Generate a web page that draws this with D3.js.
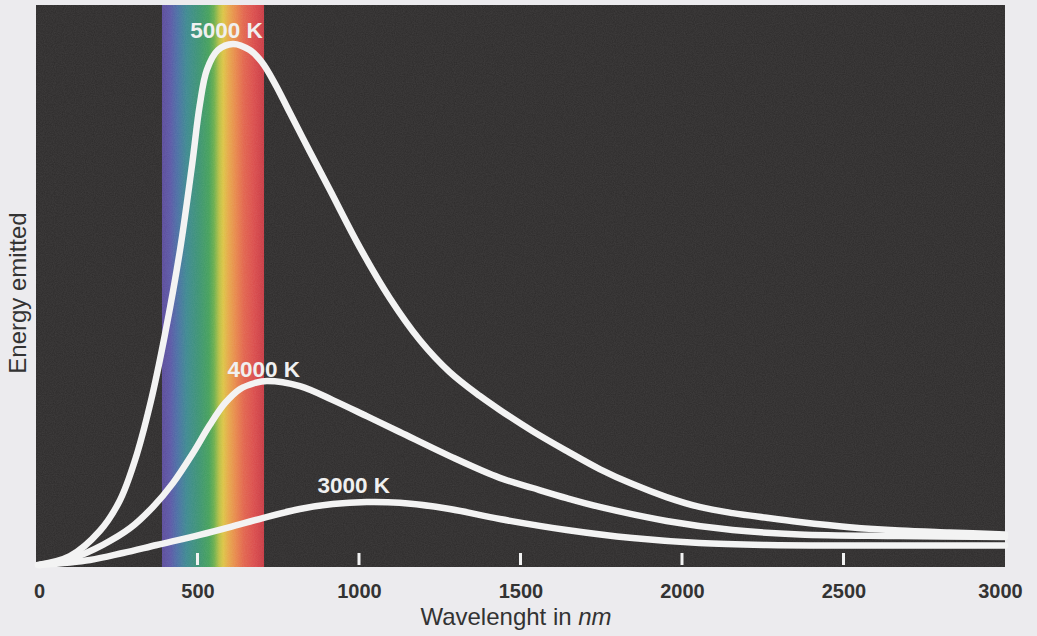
<!DOCTYPE html>
<html>
<head>
<meta charset="utf-8">
<script src="https://cdn.jsdelivr.net/npm/d3@7"></script>
<style>
  html, body { margin: 0; padding: 0; background: #ecebee; }
  svg { display: block; }
</style>
</head>
<body>
<svg id="chart" width="1037" height="636"></svg>
<script>
// Black-body radiation curves: wavelength (nm) against emitted energy (arbitrary units)
const wavelengths5000 = [6, 105, 198, 260, 306, 353, 399, 446, 483, 507, 529, 563, 610, 662, 699, 740, 786, 848, 910, 1002, 1095, 1188, 1281, 1374, 1436, 1538, 1643, 1745, 1847, 1952, 2054, 2157, 2262, 2364, 2519, 2673, 2828, 3000];
const energy5000 =      [0, 1.7, 6.6, 12.5, 20.1, 30.9, 44.4, 60.8, 77.1, 88.7, 95.5, 99.3, 100.5, 99.3, 97.0, 92.8, 87.2, 79.7, 72.3, 61.3, 51.5, 43.4, 37.2, 32.6, 29.9, 25.8, 22.0, 18.5, 15.6, 13.1, 11.2, 10.0, 9.1, 8.3, 7.3, 6.65, 6.27, 5.9];

const wavelengths4000 = [12, 114, 207, 291, 362, 424, 486, 538, 585, 631, 678, 715, 817, 919, 1024, 1126, 1281, 1436, 1538, 1643, 1745, 1952, 2157, 2364, 2673, 3000];
const energy4000 =      [0, 1.35, 3.9, 7.1, 11.2, 15.8, 21.6, 27.0, 31.2, 33.9, 35.1, 35.5, 34.5, 31.8, 28.7, 25.65, 21.0, 16.8, 14.85, 12.9, 11.2, 8.5, 6.75, 5.9, 5.6, 5.4];

const wavelengths3000 = [12, 167, 269, 374, 507, 600, 702, 817, 919, 1024, 1126, 1281, 1436, 1643, 1847, 2054, 2262, 2519, 3000];
const energy3000 =      [0, 0.96, 2.31, 3.86, 5.8, 7.3, 9.06, 10.8, 11.76, 12.15, 12.0, 10.8, 8.87, 6.75, 5.2, 4.24, 3.86, 3.76, 3.76];

const curveLabels = ["5000 K", "4000 K", "3000 K"];
const labelWavelengths = [590, 705, 984];
const labelEnergies = [101.6, 36.3, 13.9];

// Visible band of the spectrum (nm) and its colour stops
const visibleBand = [390, 706];
const spectrumOffsets = [0, 0.08, 0.15, 0.24, 0.36, 0.46, 0.51, 0.56, 0.6, 0.65, 0.72, 0.8, 0.9, 1];
const spectrumColors = ["#5a4a9a", "#5a56a6", "#4a6ea4", "#3c8890", "#3b9372", "#44a05a", "#6aae4c", "#b8c044", "#dcc444", "#e6a848", "#e8884a", "#e2644c", "#da4c4b", "#c93943"];

const xTicks = [0, 500, 1000, 1500, 2000, 2500, 3000];
const innerTicks = [500, 1000, 1500, 2000, 2500];

const svg = d3.select("#chart");
const plot = { left: 36, right: 1005, top: 5, bottom: 567 };

const x = d3.scaleLinear().domain([0, 3000]).range([plot.left, plot.right]);
const y = d3.scaleLinear().domain([0, 108]).range([565, plot.top]);

const defs = svg.append("defs");

// grain for the dark panel
const grain = defs.append("filter").attr("id", "grain")
  .attr("x", 0).attr("y", 0).attr("width", "100%").attr("height", "100%");
grain.append("feTurbulence").attr("type", "fractalNoise").attr("baseFrequency", 0.9)
  .attr("numOctaves", 2).attr("seed", 7).attr("result", "noise");
grain.append("feColorMatrix").attr("type", "matrix")
  .attr("values", "0 0 0 0 1  0 0 0 0 1  0 0 0 0 1  0 0 0 0.09 0");
grain.append("feComposite").attr("in2", "SourceGraphic").attr("operator", "in");

const grad = defs.append("linearGradient").attr("id", "spectrum")
  .attr("x1", "0%").attr("x2", "100%").attr("y1", "0%").attr("y2", "0%");
spectrumColors.forEach((c, i) => {
  grad.append("stop").attr("offset", (spectrumOffsets[i] * 100) + "%").attr("stop-color", c);
});

// dark panel
svg.append("rect")
  .attr("x", plot.left).attr("y", plot.top)
  .attr("width", plot.right - plot.left).attr("height", plot.bottom - plot.top)
  .attr("fill", "#2d2b2b");

// visible spectrum band
svg.append("rect")
  .attr("x", x(visibleBand[0])).attr("y", plot.top)
  .attr("width", x(visibleBand[1]) - x(visibleBand[0]))
  .attr("height", plot.bottom - plot.top)
  .attr("fill", "url(#spectrum)");

// grain over the panel
svg.append("rect")
  .attr("x", plot.left).attr("y", plot.top)
  .attr("width", plot.right - plot.left).attr("height", plot.bottom - plot.top)
  .attr("fill", "#000").attr("filter", "url(#grain)");

// tick marks inside the panel
svg.append("g").selectAll("line").data(innerTicks).join("line")
  .attr("x1", d => x(d)).attr("x2", d => x(d))
  .attr("y1", 553).attr("y2", 565)
  .attr("stroke", "#f2f2f2").attr("stroke-width", 3);

// curves
const series = [
  { w: wavelengths5000, e: energy5000 },
  { w: wavelengths4000, e: energy4000 },
  { w: wavelengths3000, e: energy3000 }
];
const line = d3.line()
  .x(d => x(d[0])).y(d => y(d[1]))
  .curve(d3.curveCatmullRom.alpha(0.5));

svg.append("g").selectAll("path").data(series.slice().reverse()).join("path")
  .attr("d", s => line(s.w.map((w, i) => [w, s.e[i]])))
  .attr("fill", "none")
  .attr("stroke", "#f3f3f3")
  .attr("stroke-width", 6.5)
  .attr("stroke-linecap", "round")
  .attr("stroke-linejoin", "round");

// curve labels
svg.append("g").selectAll("text").data(curveLabels).join("text")
  .attr("x", (d, i) => x(labelWavelengths[i]))
  .attr("y", (d, i) => y(labelEnergies[i]))
  .attr("text-anchor", "middle")
  .attr("font-family", "Liberation Sans, Arial, sans-serif")
  .attr("font-weight", "bold")
  .attr("font-size", 22.5)
  .attr("fill", "#f0f0f0")
  .text(d => d);

// x axis labels
const xAxis = d3.axisBottom(x).tickValues(xTicks).tickSize(0).tickPadding(0)
  .tickFormat(d3.format("d"));
const gx = svg.append("g").attr("transform", `translate(0, ${plot.bottom + 17})`).call(xAxis);
gx.select(".domain").remove();
gx.selectAll("text")
  .attr("font-family", "Liberation Sans, Arial, sans-serif")
  .attr("font-weight", "bold")
  .attr("font-size", 20)
  .attr("fill", "#333");
gx.selectAll(".tick").filter(d => d === 3000).select("text").attr("dx", -5);
gx.selectAll(".tick").filter(d => d === 0).select("text").attr("dx", 3);

// axis titles
const xt = svg.append("text")
  .attr("x", 516).attr("y", 625)
  .attr("text-anchor", "middle")
  .attr("font-family", "Liberation Sans, Arial, sans-serif")
  .attr("font-size", 24)
  .attr("fill", "#333");
xt.append("tspan").text("Wavelenght in ");
xt.append("tspan").attr("font-style", "italic").text("nm");

svg.append("text")
  .attr("transform", "translate(26, 293) rotate(-90)")
  .attr("text-anchor", "middle")
  .attr("font-family", "Liberation Sans, Arial, sans-serif")
  .attr("font-size", 24)
  .attr("fill", "#333")
  .text("Energy emitted");
</script>
</body>
</html>
